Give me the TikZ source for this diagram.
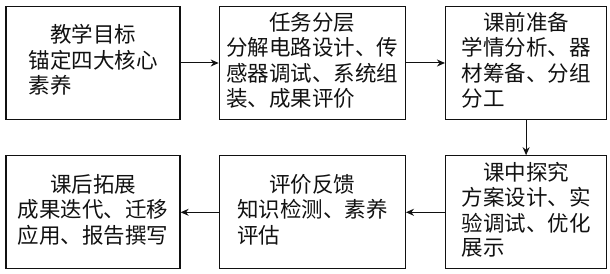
\documentclass[tikz,border=0pt]{standalone}
\usepackage{fontspec}
\newfontfamily\cjk{Noto Sans CJK SC}
\usetikzlibrary{arrows.meta,positioning}
\definecolor{lcInk}{HTML}{111111}
\tikzset{
  lc stage/.style={draw=lcInk, line width=1.3pt, minimum height=113pt, inner sep=0pt,
    font=\cjk\fontsize{21.5}{24.3}\selectfont, text=lcInk},
  lc narrow/.style={lc stage, minimum width=174pt},
  lc wide/.style={lc stage, minimum width=186pt},
  lc slim/.style={lc stage, minimum width=161pt},
  lc flow/.style={draw=lcInk, line width=1pt, -{Stealth[length=8pt,width=7pt]}},
}
\newcommand{\lcText}[2]{\begin{tabular}{@{}l@{}}\multicolumn{1}{@{}c@{}}{#1}\\#2\end{tabular}}

\begin{document}
\begin{tikzpicture}[x=1pt,y=1pt]
  \useasboundingbox (0,0) rectangle (610,273);
  % top row
  \node[lc narrow] (goal) at (93,210) {\lcText{教学目标}{锚定四大核心\\素养}};
  \node[lc wide,right=38pt of goal] (task) {\lcText{任务分层}{分解电路设计、传\\感器调试、系统组\\装、成果评价}};
  \node[lc slim,right=39pt of task] (prep) {\lcText{课前准备}{学情分析、器\\材筹备、分组\\分工}};
  % bottom row
  \node[lc slim,below=35pt of prep] (explore) {\lcText{课中探究}{方案设计、实\\验调试、优化\\展示}};
  \node[lc wide,left=39pt of explore] (review) {\lcText{评价反馈}{知识检测、素养\\评估}};
  \node[lc narrow,left=38pt of review] (extend) {\lcText{课后拓展}{成果迭代、迁移\\应用、报告撰写}};
  % arrows
  \draw[lc flow] (goal) -- (task);
  \draw[lc flow] (task) -- (prep);
  \draw[lc flow] (prep) -- (explore);
  \draw[lc flow] (explore) -- (review);
  \draw[lc flow] (review) -- (extend);
\end{tikzpicture}
\end{document}
